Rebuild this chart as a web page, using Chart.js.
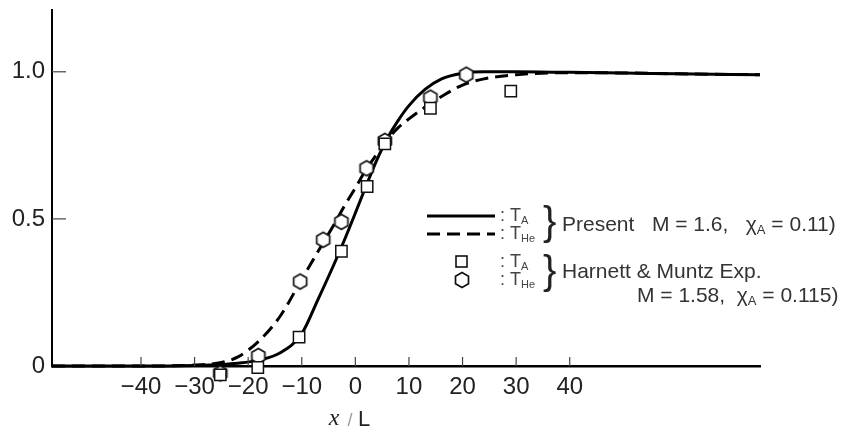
<!DOCTYPE html>
<html><head><meta charset="utf-8">
<script src="https://cdn.jsdelivr.net/npm/chart.js@4.4.1/dist/chart.umd.min.js"></script>
<style>html,body{margin:0;padding:0;background:#fff;}#wrap{width:844px;height:432px;}</style>
</head><body><div id="wrap"><canvas id="c" width="844" height="432"></canvas></div>
<script>
// ---- data ----
const curveX    = [-56.6,-40,-30,-25,-22,-18,-14,-10,-7,-4,-2,0,2,4,6,8,10,13,16,20,24,30,40,50,60,75.5];
const solidTA   = [0,0,0.002,0.005,0.009,0.02,0.045,0.11,0.225,0.345,0.43,0.52,0.612,0.70,0.775,0.835,0.885,0.94,0.975,0.995,1.0,1.0,0.998,0.996,0.993,0.99];
const dashedTHe = [0,0,0.003,0.012,0.03,0.085,0.17,0.295,0.388,0.48,0.545,0.605,0.668,0.72,0.77,0.81,0.84,0.88,0.915,0.955,0.976,0.99,0.997,0.996,0.993,0.99];
const expTAx  = [-25.2,-18.2,-10.5,-2.6,2.2,5.5,14,29];
const expTAy  = [-0.03,-0.005,0.098,0.39,0.61,0.755,0.876,0.934];
const expTHex = [-25.2,-18.1,-10.3,-6,-2.6,2.1,5.5,14,20.7];
const expTHey = [-0.025,0.034,0.287,0.429,0.49,0.672,0.765,0.912,0.99];
const xTicks = [-40,-30,-20,-10,0,10,20,30,40];
const yTicks = [0,0.5,1.0];
const yTickLabels = ['0','0.5','1.0'];

const FONT = "'Liberation Sans',sans-serif";

function hexCanvas(r, lw){
  const s = Math.ceil(2*r+lw+3); const c=document.createElement('canvas'); c.width=s; c.height=s;
  const g=c.getContext('2d'); g.beginPath();
  for(let i=0;i<6;i++){const a=Math.PI/2+i*Math.PI/3; const px=s/2+r*Math.cos(a), py=s/2+r*Math.sin(a); i?g.lineTo(px,py):g.moveTo(px,py);}
  g.closePath(); g.fillStyle='#fff'; g.fill(); g.lineWidth=lw; g.strokeStyle='#111'; g.stroke(); return c;
}
const hex = hexCanvas(7.5, 1.7);

const innerTicks = {
  id:'innerTicks',
  afterDraw(chart){
    const {ctx, scales:{x,y}} = chart; ctx.save(); ctx.strokeStyle='#444'; ctx.lineWidth=1.2;
    const y0 = y.getPixelForValue(0);
    xTicks.forEach(v=>{const px=x.getPixelForValue(v); ctx.beginPath(); ctx.moveTo(px,y0); ctx.lineTo(px,y0-9); ctx.stroke();});
    const x0 = x.left;
    yTicks.forEach(v=>{ if(v===0) return; const py=y.getPixelForValue(v); ctx.beginPath(); ctx.moveTo(x0,py); ctx.lineTo(x0+14,py); ctx.stroke();});
    ctx.textBaseline='middle'; ctx.fillStyle='#222';
    ctx.font="italic 24px 'Liberation Serif',serif"; ctx.textAlign='center'; ctx.fillText('x',334,419);
    ctx.font="18px "+FONT; ctx.fillStyle='#999'; ctx.fillText('/',350,421);
    ctx.font="22px "+FONT; ctx.fillStyle='#222'; ctx.fillText('L',364,420);
    ctx.restore();
  }
};

function subText(ctx, x, y, parts){
  let cx=x;
  parts.forEach(([t,sub,size])=>{
    ctx.font=(sub? Math.round(size*0.6):size)+"px "+FONT;
    ctx.fillText(t,cx, sub? y+5 : y); cx+=ctx.measureText(t).width;
  });
  return cx;
}

const legendPlugin = {
  id:'legendPlugin',
  afterDraw(chart){
    const ctx=chart.ctx; ctx.save(); ctx.textBaseline='middle'; ctx.textAlign='left'; ctx.strokeStyle='#000';
    ctx.lineWidth=3; ctx.beginPath(); ctx.moveTo(427,216); ctx.lineTo(495,216); ctx.stroke();
    ctx.setLineDash([13,7]); ctx.beginPath(); ctx.moveTo(427,234); ctx.lineTo(495,234); ctx.stroke(); ctx.setLineDash([]);
    ctx.lineWidth=1.5; ctx.fillStyle='#fff'; ctx.fillRect(456,256,11,11); ctx.strokeRect(456,256,11,11);
    ctx.drawImage(hex, 462-hex.width/2, 280-hex.height/2);
    ctx.fillStyle='#444';
    const rows=[[216,'A'],[234,'He'],[262,'A'],[280,'He']];
    rows.forEach(([yy,s])=>{ subText(ctx,500,yy,[[': T',false,18],[s,true,18]]); });
    ctx.fillStyle='#222'; ctx.font="40px "+FONT;
    ctx.fillText('}',543,224); ctx.fillText('}',543,273);
    ctx.fillStyle='#333';
    subText(ctx,562,225,[['Present   M = 1.6,   \u03c7',false,21],['A',true,21],[' = 0.11)',false,21]]);
    subText(ctx,562,272,[['Harnett & Muntz Exp.',false,21]]);
    subText(ctx,637,296,[['M = 1.58,  \u03c7',false,21],['A',true,21],[' = 0.115)',false,21]]);
    ctx.restore();
  }
};

const pts = (xs,ys)=>xs.map((x,i)=>({x, y: ys[i]}));

new Chart(document.getElementById('c'), {
  type:'scatter',
  data:{ datasets:[
    {label:'TA exp', data:pts(expTAx,expTAy), pointStyle:'rect', pointRadius:8, pointBackgroundColor:'#fff', pointBorderColor:'#111', pointBorderWidth:1.5, showLine:false, clip:false},
    {label:'THe exp', data:pts(expTHex,expTHey), pointStyle:hex, pointRadius:8, showLine:false, clip:false},
    {label:'TA', data:pts(curveX,solidTA), showLine:true, borderColor:'#000', borderWidth:3, pointRadius:0, cubicInterpolationMode:'monotone', clip:false},
    {label:'THe', data:pts(curveX,dashedTHe), showLine:true, borderColor:'#000', borderWidth:3, borderDash:[13,7], pointRadius:0, cubicInterpolationMode:'monotone', clip:false}
  ]},
  options:{
    responsive:false, animation:false, events:[],
    layout:{padding:{top:10,right:84,left:0,bottom:0}},
    plugins:{legend:{display:false}, tooltip:{enabled:false}},
    scales:{
      x:{type:'linear', min:-56.6, max:75.5,
        afterBuildTicks:s=>{s.ticks=xTicks.map(v=>({value:v}));},
        afterFit:s=>{s.height=66; s.paddingLeft=0; s.paddingRight=0;},
        grid:{display:false, drawTicks:false},
        border:{display:true, color:'#000', width:2.5},
        ticks:{padding:7, autoSkip:false, maxRotation:0, color:'#222', font:{family:FONT, size:24},
          callback:v=> v<0 ? '\u2212'+Math.abs(v) : String(v)}},
      y:{type:'linear', min:0, max:1.21,
        afterBuildTicks:s=>{s.ticks=yTicks.map(v=>({value:v}));},
        afterFit:s=>{s.width=52; s.paddingTop=0; s.paddingBottom=0;},
        grid:{display:false, drawTicks:false},
        border:{display:true, color:'#000', width:2},
        ticks:{padding:7, color:'#222', font:{family:FONT, size:24},
          callback:(v)=>{const i=yTicks.indexOf(v); return i>=0? yTickLabels[i] : '';}}}
    }
  },
  plugins:[innerTicks, legendPlugin]
});
</script></body></html>
